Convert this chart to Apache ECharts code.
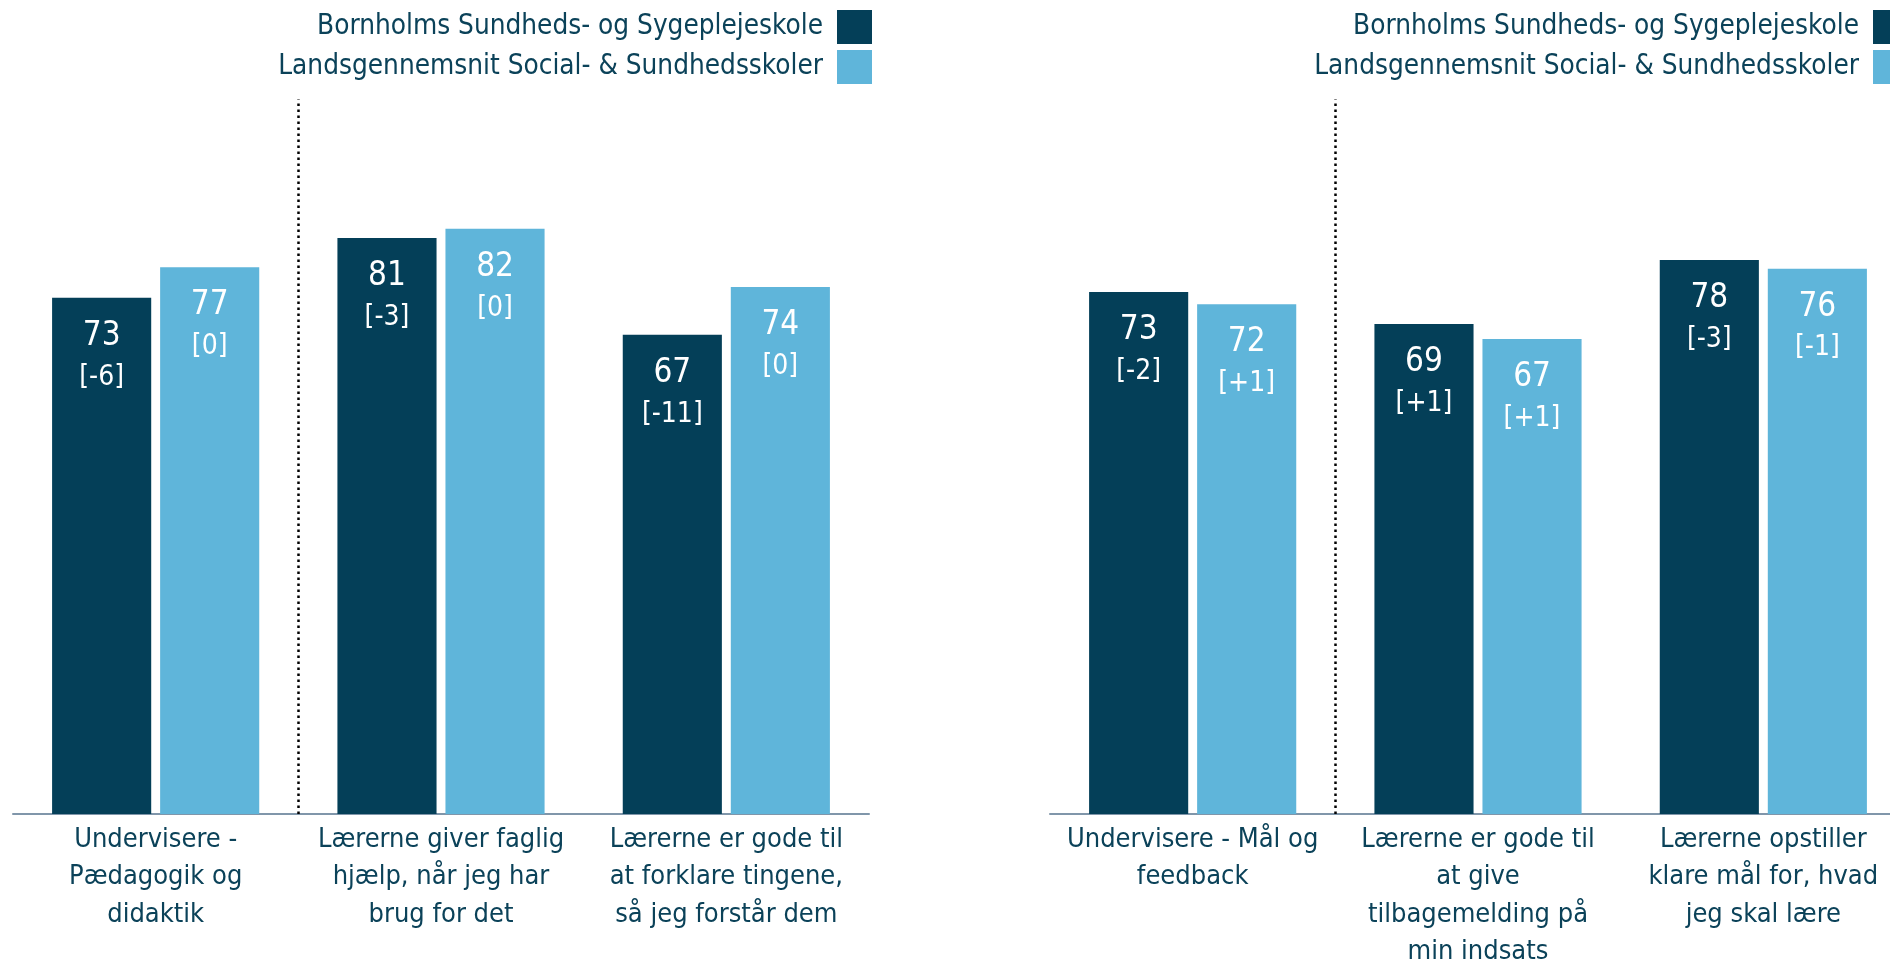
<!DOCTYPE html>
<html>
<head>
<meta charset="utf-8">
<script src="https://cdn.jsdelivr.net/npm/echarts@6/dist/echarts.min.js"></script>
<style>
  html, body { margin: 0; padding: 0; background: #ffffff; }
  #chart { width: 1890px; height: 964px; }
</style>
</head>
<body>
<div id="chart"></div>
<script>
// ---- Data ----
const seriesNames = ['Bornholms Sundheds- og Sygeplejeskole', 'Landsgennemsnit Social- & Sundhedsskoler'];

const leftCategories = [
  'Undervisere -\nPædagogik og\ndidaktik',
  'Lærerne giver faglig\nhjælp, når jeg har\nbrug for det',
  'Lærerne er gode til\nat forklare tingene,\nså jeg forstår dem'
];
const leftSchool = [72.6, 81.0, 67.4];
const leftNational = [76.9, 82.3, 74.1];
const leftSchoolLabel = [73, 81, 67];
const leftNationalLabel = [77, 82, 74];
const leftSchoolChange = ['-6', '-3', '-11'];
const leftNationalChange = ['0', '0', '0'];

const rightCategories = [
  'Undervisere - Mål og\nfeedback',
  'Lærerne er gode til\nat give\ntilbagemelding på\nmin indsats',
  'Lærerne opstiller\nklare mål for, hvad\njeg skal lære'
];
const rightSchool = [73.4, 68.9, 77.9];
const rightNational = [71.7, 66.8, 76.7];
const rightSchoolLabel = [73, 69, 78];
const rightNationalLabel = [72, 67, 76];
const rightSchoolChange = ['-2', '+1', '-3'];
const rightNationalChange = ['+1', '+1', '-1'];

// ---- Styles ----
const FONT = "'DejaVu Sans Condensed', 'DejaVu Sans', sans-serif";
const DARK = '#043F58';
const LIGHT = '#5FB5DA';
const TEXT = '#0B4259';
const AXIS = '#8096AA';

function barLabel(values, changes) {
  return {
    show: true,
    position: 'insideTop',
    distance: 18,
    color: '#ffffff',
    fontFamily: FONT,
    formatter: function (p) {
      return '{v|' + values[p.dataIndex] + '}\n{d|[' + changes[p.dataIndex] + ']}';
    },
    rich: {
      v: { fontSize: 33, lineHeight: 41, color: '#ffffff', fontFamily: FONT },
      d: { fontSize: 28, lineHeight: 41, color: '#ffffff', fontFamily: FONT }
    }
  };
}

function catAxis(gridIndex, cats) {
  return {
    type: 'category',
    gridIndex: gridIndex,
    data: cats,
    axisTick: { show: false },
    axisLine: { show: true, lineStyle: { color: AXIS, width: 2 } },
    axisLabel: {
      interval: 0,
      margin: 7,
      color: TEXT,
      fontFamily: FONT,
      fontSize: 27,
      lineHeight: 37.5
    },
    splitLine: { show: false }
  };
}

function sepAxis(gridIndex, n) {
  return {
    type: 'value',
    gridIndex: gridIndex,
    min: 0,
    max: n,
    show: false,
    splitLine: { show: false }
  };
}

function legend(right) {
  return {
    data: seriesNames,
    orient: 'vertical',
    align: 'right',
    right: right,
    top: 10,
    padding: 0,
    itemWidth: 35,
    itemHeight: 34,
    itemGap: 6,
    icon: 'rect',
    selectedMode: false,
    textStyle: { color: TEXT, fontFamily: FONT, fontSize: 27.7, padding: [8, 9, 0, 0] }
  };
}

function separator(xIdx, yIdx) {
  return {
    type: 'line',
    xAxisIndex: xIdx,
    yAxisIndex: yIdx,
    data: [[1, 0]],
    showSymbol: false,
    silent: true,
    lineStyle: { opacity: 0 },
    markLine: {
      silent: true,
      symbol: 'none',
      label: { show: false },
      lineStyle: { type: [2.5, 3.5], color: '#000000', width: 2.5 },
      data: [{ xAxis: 1 }]
    }
  };
}

const option = {
  backgroundColor: '#ffffff',
  animation: false,
  legend: [legend(1018), legend(-18)],
  grid: [
    { left: 13, width: 856, top: 99.4, height: 714.6, outerBoundsMode: 'none', containLabel: false },
    { left: 1050, width: 856, top: 99.4, height: 714.6, outerBoundsMode: 'none', containLabel: false }
  ],
  xAxis: [
    catAxis(0, leftCategories),
    catAxis(1, rightCategories),
    sepAxis(0, leftCategories.length),
    sepAxis(1, rightCategories.length)
  ],
  yAxis: [
    { type: 'value', gridIndex: 0, min: 0, max: 100.5, show: false },
    { type: 'value', gridIndex: 1, min: 0, max: 100.5, show: false }
  ],
  series: [
    {
      name: seriesNames[0], type: 'bar', xAxisIndex: 0, yAxisIndex: 0,
      data: leftSchool, itemStyle: { color: DARK },
      barGap: '9%', barCategoryGap: '27.4%',
      label: barLabel(leftSchoolLabel, leftSchoolChange)
    },
    {
      name: seriesNames[1], type: 'bar', xAxisIndex: 0, yAxisIndex: 0,
      data: leftNational, itemStyle: { color: LIGHT },
      barGap: '9%', barCategoryGap: '27.4%',
      label: barLabel(leftNationalLabel, leftNationalChange)
    },
    {
      name: seriesNames[0], type: 'bar', xAxisIndex: 1, yAxisIndex: 1,
      data: rightSchool, itemStyle: { color: DARK },
      barGap: '9%', barCategoryGap: '27.4%',
      label: barLabel(rightSchoolLabel, rightSchoolChange)
    },
    {
      name: seriesNames[1], type: 'bar', xAxisIndex: 1, yAxisIndex: 1,
      data: rightNational, itemStyle: { color: LIGHT },
      barGap: '9%', barCategoryGap: '27.4%',
      label: barLabel(rightNationalLabel, rightNationalChange)
    },
    separator(2, 0),
    separator(3, 1)
  ]
};

const chart = echarts.init(document.getElementById('chart'), null, { renderer: 'canvas' });
chart.setOption(option);
</script>
</body>
</html>
